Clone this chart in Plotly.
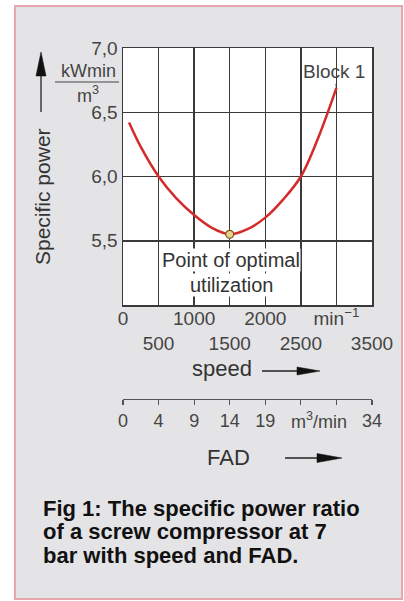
import plotly.graph_objects as go

# ---- data ----
speed_rpm = [85, 250, 500, 750, 1000, 1250, 1500, 1750, 2000, 2250, 2500, 2750, 3000]
spec_power = [6.42, 6.23, 6.00, 5.83, 5.70, 5.60, 5.55, 5.59, 5.68, 5.82, 6.00, 6.31, 6.69]
opt_speed = [1500]
opt_power = [5.55]

speed_ticks = [0, 500, 1000, 1500, 2000, 2500, 3000, 3500]
speed_labels = ["0", "<br>500", "1000", "<br>1500", "2000", "<br>2500", "min<sup>\u22121</sup>", "<br>3500"]
fad_labels = ["0", "4", "9", "14", "19", "", "", "34"]
power_ticks = [5.5, 6.0, 6.5, 7.0]
power_labels = ["5,5", "6,0", "6,5", "7,0"]

W, H = 404, 601
L, R, T, B = 123, 372, 48, 399   # paper area in pixels
PLOT_BOTTOM = 305

def px(x):
    return (x - L) / (R - L)

def py(y):
    return (B - y) / (B - T)

FONT = "Liberation Sans, Arial, Helvetica, sans-serif"
GRID = "#3a3a3a"
TXT = "#444444"

fig = go.Figure()
fig.add_trace(go.Scatter(x=speed_rpm, y=spec_power, mode="lines",
                         line=dict(color="#d42a2a", width=2.5, shape="spline", smoothing=1.0),
                         hoverinfo="skip", showlegend=False))
fig.add_trace(go.Scatter(x=opt_speed, y=opt_power, mode="markers",
                         marker=dict(size=8, color="#ead08f", line=dict(color="#7a5a20", width=1.2)),
                         hoverinfo="skip", showlegend=False))
# invisible trace to activate the FAD axis
fig.add_trace(go.Scatter(x=speed_rpm, y=spec_power, xaxis="x2", mode="lines",
                         opacity=0, hoverinfo="skip", showlegend=False))

shapes = [
    dict(type="rect", xref="paper", yref="paper", x0=px(15), x1=px(402), y0=py(599), y1=py(6),
         fillcolor="#e4e4e6", line=dict(color="#e6a6ae", width=2), layer="below"),
    dict(type="rect", xref="paper", yref="paper", x0=0, x1=1, y0=py(PLOT_BOTTOM), y1=1,
         fillcolor="white", line=dict(width=0), layer="below"),
    dict(type="line", xref="paper", yref="paper", x0=px(55), x1=px(119), y0=py(82), y1=py(82),
         line=dict(color=TXT, width=1.2)),
    dict(type="line", xref="paper", yref="paper", x0=px(41), x1=px(41), y0=py(112), y1=py(72),
         line=dict(color="#222", width=1.3)),
    dict(type="path", xref="paper", yref="paper",
         path=f"M {px(41)},{py(52)} L {px(36)},{py(76)} L {px(46)},{py(76)} Z",
         fillcolor="#111", line=dict(color="#111", width=0.5)),
    dict(type="line", xref="paper", yref="paper", x0=px(262), x1=px(300), y0=py(371), y1=py(371),
         line=dict(color="#222", width=1.3)),
    dict(type="path", xref="paper", yref="paper",
         path=f"M {px(320)},{py(371)} L {px(297)},{py(367)} L {px(297)},{py(375)} Z",
         fillcolor="#111", line=dict(color="#111", width=0.5)),
    dict(type="line", xref="paper", yref="paper", x0=px(285), x1=px(320), y0=py(458), y1=py(458),
         line=dict(color="#222", width=1.3)),
    dict(type="path", xref="paper", yref="paper",
         path=f"M {px(342)},{py(458)} L {px(317)},{py(453.5)} L {px(317)},{py(462.5)} Z",
         fillcolor="#111", line=dict(color="#111", width=0.5)),
]

def label(text, x, y, size, color=TXT, xanchor="center", **kw):
    d = dict(text=text, xref="paper", yref="paper", x=px(x), y=py(y), showarrow=False,
             xanchor=xanchor, yanchor="middle", font=dict(size=size, color=color, family=FONT))
    d.update(kw)
    return d

annotations = [
    label("kWmin", 88, 71, 18),
    label("m<sup>3</sup>", 88, 94, 18),
    label("Specific power", 42, 197, 21, "#333", textangle=-90),
    dict(text="Block 1", xref="x", yref="y", x=3000, y=6.69, ax=-2, ay=-16, showarrow=True,
         arrowhead=0, arrowwidth=1, arrowcolor="#333", standoff=0,
         xanchor="center", yanchor="middle",
         font=dict(size=19, color=TXT, family=FONT)),
    label("Point of optimal", 231, 260, 20, "#333", bgcolor="white", borderpad=0),
    label("utilization", 231, 285, 20, "#333", bgcolor="white", borderpad=0),
    label("speed", 222, 368, 22, "#333"),
    dict(text="m<sup>3</sup>/min", xref="x2", yref="paper", x=2750, y=py(420), showarrow=False,
         xanchor="center", yanchor="middle", font=dict(size=18, color=TXT, family=FONT)),
    label("FAD", 228, 457, 22, "#333"),
]
caption = ["Fig 1: The specific power ratio", "of a screw compressor at 7", "bar with speed and FAD."]
for i, line in enumerate(caption):
    annotations.append(label(f"<b>{line}</b>", 41, 508 + 23.5 * i, 22, "#111", xanchor="left"))

fig.update_layout(
    width=W, height=H,
    margin=dict(l=L, r=W - R, t=T, b=H - B, pad=0, autoexpand=False),
    paper_bgcolor="white", plot_bgcolor="white",
    font=dict(family=FONT, size=19, color=TXT),
    showlegend=False,
    xaxis=dict(range=[0, 3500], tickmode="array", tickvals=speed_ticks, ticktext=speed_labels,
               showgrid=True, gridcolor=GRID, gridwidth=1.5, zeroline=False,
               showline=True, linecolor=GRID, linewidth=1.5, mirror=True, ticks="",
               tickangle=0, automargin=False, ticklabelstandoff=-4,
               anchor="y", tickfont=dict(size=19, color=TXT), fixedrange=True),
    xaxis2=dict(range=[0, 3500], tickmode="array", tickvals=speed_ticks, ticktext=fad_labels,
                overlaying="x", anchor="free", position=0, side="bottom",
                showgrid=False, zeroline=False, showline=True, linecolor="#555", linewidth=1.2,
                ticks="outside", ticklen=5, tickcolor="#555", tickwidth=1.2, tickangle=0,
                automargin=False, tickfont=dict(size=18, color=TXT), fixedrange=True),
    yaxis=dict(range=[5.0, 7.0], domain=[py(PLOT_BOTTOM), 1], tickmode="array",
               tickvals=power_ticks, ticktext=power_labels,
               showgrid=True, gridcolor=GRID, gridwidth=1.5, zeroline=False,
               showline=True, linecolor=GRID, linewidth=1.5, mirror=True, ticks="",
               automargin=False, tickfont=dict(size=19, color=TXT), fixedrange=True),
    shapes=shapes,
    annotations=annotations,
)

fig.write_html("out.html", config={"displayModeBar": False, "staticPlot": True},
               post_script="document.body.style.margin='0';")
